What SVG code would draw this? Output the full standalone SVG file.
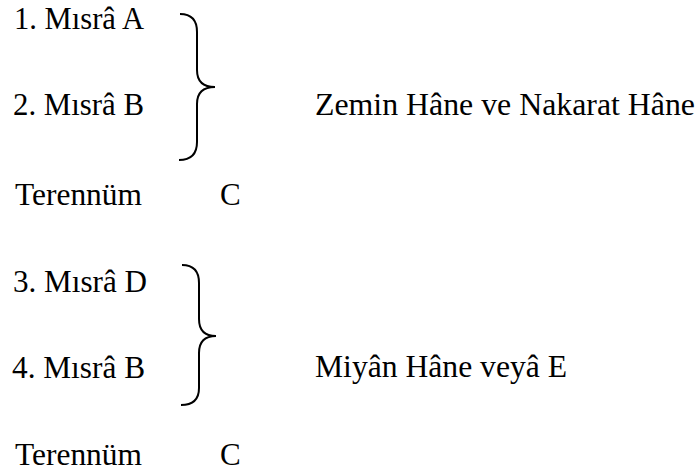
<svg xmlns="http://www.w3.org/2000/svg" width="700" height="474" viewBox="0 0 700 474">
<style>
text{font-family:"Liberation Serif","Times New Roman",serif;font-size:31px;fill:#000}
.brace{fill:none;stroke:#000;stroke-width:2}
</style>
<rect width="700" height="474" fill="#fff"/>
<g id="m1"><text x="14" y="29" textLength="130" lengthAdjust="spacingAndGlyphs">1. Mısrâ A</text></g>
<g id="m2"><text x="13" y="115" textLength="131" lengthAdjust="spacingAndGlyphs">2. Mısrâ B</text></g>
<g id="t1"><text x="15" y="205" textLength="127" lengthAdjust="spacingAndGlyphs">Terennüm</text><text x="220" y="205">C</text></g>
<g id="zemin"><text x="315" y="115" textLength="380" lengthAdjust="spacingAndGlyphs">Zemin Hâne ve Nakarat Hâne</text></g>
<g id="m3"><text x="13" y="292" textLength="134" lengthAdjust="spacingAndGlyphs">3. Mısrâ D</text></g>
<g id="m4"><text x="12" y="378" textLength="133" lengthAdjust="spacingAndGlyphs">4. Mısrâ B</text></g>
<g id="t2"><text x="15" y="465" textLength="127" lengthAdjust="spacingAndGlyphs">Terennüm</text><text x="220" y="465">C</text></g>
<g id="miyan"><text x="315" y="377" textLength="252" lengthAdjust="spacingAndGlyphs">Miyân Hâne veyâ E</text></g>
<g id="connectors">
<path class="brace" d="M180,14 Q197,14 197,32 L197,70 Q197,87 215,87 Q197,87 197,104 L197,142 Q197,160 179,160"/>
<path class="brace" d="M182,265 Q199,265 199,283 L199,319 Q199,336 216,336 Q199,336 199,353 L199,388 Q199,405 181,405"/>
</g>
</svg>
